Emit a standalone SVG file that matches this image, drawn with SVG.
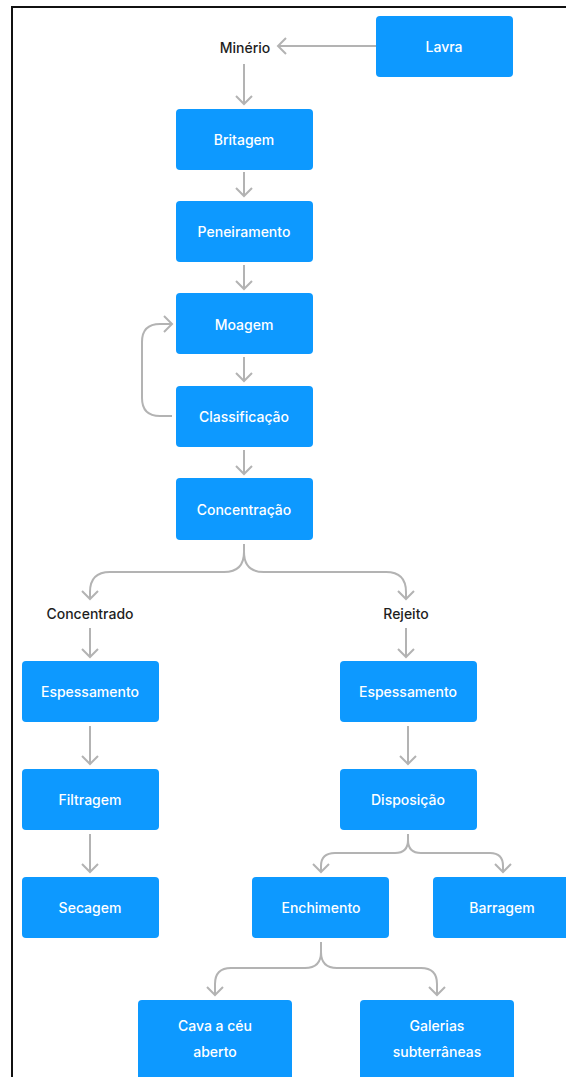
<svg xmlns="http://www.w3.org/2000/svg" width="566" height="1077" viewBox="0 0 566 1077">
  <style>
    .box { fill: #0D99FF; }
    .lbl { font-family: Inter, "Liberation Sans", sans-serif; font-size: 14px; font-weight: 500; fill: #FFFFFF; text-anchor: middle; dominant-baseline: central; }
    .txt { font-family: Inter, "Liberation Sans", sans-serif; font-size: 14px; font-weight: 500; fill: #1E1E1E; text-anchor: middle; dominant-baseline: central; }
    .edge { fill: none; stroke: #B3B3B3; stroke-width: 2; marker-end: url(#chev); }
  </style>
  <defs>
    <marker id="chev" viewBox="-10 -10 20 20" markerWidth="20" markerHeight="20" refX="0" refY="0" orient="auto" markerUnits="userSpaceOnUse">
      <path d="M -8 -8 L 0 0 L -8 8" fill="none" stroke="#B3B3B3" stroke-width="2"/>
    </marker>
  </defs>

  <!-- page and frame -->
  <rect x="0" y="0" width="566" height="1077" fill="#FFFFFF"/>
  <rect x="12" y="7" width="600" height="1100" fill="#FFFFFF" stroke="#111111" stroke-width="2"/>

  <!-- connectors -->
  <g id="connectors">
    <path class="edge" d="M 376 46 H 278"/>
    <path class="edge" d="M 244 64 V 104"/>
    <path class="edge" d="M 244 172 V 196"/>
    <path class="edge" d="M 244 265 V 289"/>
    <path class="edge" d="M 244 357 V 381"/>
    <path class="edge" d="M 172 416 H 160 Q 142 416 142 398 V 342 Q 142 324 160 324 H 172"/>
    <path class="edge" d="M 244 450 V 474"/>
    <path class="edge" d="M 244 544 V 552 Q 244 572 224 572 H 110 Q 90 572 90 592 V 599"/>
    <path class="edge" d="M 244 544 V 552 Q 244 572 264 572 H 386 Q 406 572 406 592 V 599"/>
    <path class="edge" d="M 90 628 V 657"/>
    <path class="edge" d="M 406 628 V 657"/>
    <path class="edge" d="M 90 726 V 764"/>
    <path class="edge" d="M 408 726 V 764"/>
    <path class="edge" d="M 90 834 V 872"/>
    <path class="edge" d="M 408 834 V 840 Q 408 853 395 853 H 335 Q 321 853 321 866 V 872"/>
    <path class="edge" d="M 408 834 V 840 Q 408 853 421 853 H 490 Q 503 853 503 866 V 872"/>
    <path class="edge" d="M 321 942 V 952 Q 321 968 305 968 H 231 Q 215 968 215 984 V 995"/>
    <path class="edge" d="M 321 942 V 952 Q 321 968 337 968 H 421 Q 437 968 437 984 V 995"/>
  </g>

  <!-- floating labels -->
  <text id="minerio" class="txt" x="245" y="47">Minério</text>
  <text id="concentrado" class="txt" x="90" y="613">Concentrado</text>
  <text id="rejeito" class="txt" x="406" y="613">Rejeito</text>

  <!-- process nodes -->
  <g id="lavra"><rect class="box" x="376" y="16" width="137" height="61" rx="4"/><text class="lbl" x="444" y="46">Lavra</text></g>
  <g id="britagem"><rect class="box" x="176" y="109" width="137" height="61" rx="4"/><text class="lbl" x="244" y="139">Britagem</text></g>
  <g id="peneiramento"><rect class="box" x="176" y="201" width="137" height="61" rx="4"/><text class="lbl" x="244" y="231">Peneiramento</text></g>
  <g id="moagem"><rect class="box" x="176" y="293" width="137" height="61" rx="4"/><text class="lbl" x="244" y="324">Moagem</text></g>
  <g id="classificacao"><rect class="box" x="176" y="386" width="137" height="61" rx="4"/><text class="lbl" x="244" y="416">Classificação</text></g>
  <g id="concentracao"><rect class="box" x="176" y="478" width="137" height="62" rx="4"/><text class="lbl" x="244" y="509">Concentração</text></g>
  <g id="espessamento-c"><rect class="box" x="22" y="661" width="137" height="61" rx="4"/><text class="lbl" x="90" y="691">Espessamento</text></g>
  <g id="filtragem"><rect class="box" x="22" y="769" width="137" height="61" rx="4"/><text class="lbl" x="90" y="799">Filtragem</text></g>
  <g id="secagem"><rect class="box" x="22" y="877" width="137" height="61" rx="4"/><text class="lbl" x="90" y="907">Secagem</text></g>
  <g id="espessamento-r"><rect class="box" x="340" y="661" width="137" height="61" rx="4"/><text class="lbl" x="408" y="691">Espessamento</text></g>
  <g id="disposicao"><rect class="box" x="340" y="769" width="137" height="61" rx="4"/><text class="lbl" x="408" y="799">Disposição</text></g>
  <g id="enchimento"><rect class="box" x="252" y="877" width="137" height="61" rx="4"/><text class="lbl" x="321" y="907">Enchimento</text></g>
  <g id="barragem"><rect class="box" x="433" y="877" width="137" height="61" rx="4"/><text class="lbl" x="502" y="907">Barragem</text></g>
  <g id="cava"><rect class="box" x="138" y="1000" width="154" height="82" rx="4"/><text class="lbl" x="215" y="1025">Cava a céu</text><text class="lbl" x="215" y="1051">aberto</text></g>
  <g id="galerias"><rect class="box" x="360" y="1000" width="154" height="82" rx="4"/><text class="lbl" x="437" y="1025">Galerias</text><text class="lbl" x="437" y="1051">subterrâneas</text></g>
</svg>
